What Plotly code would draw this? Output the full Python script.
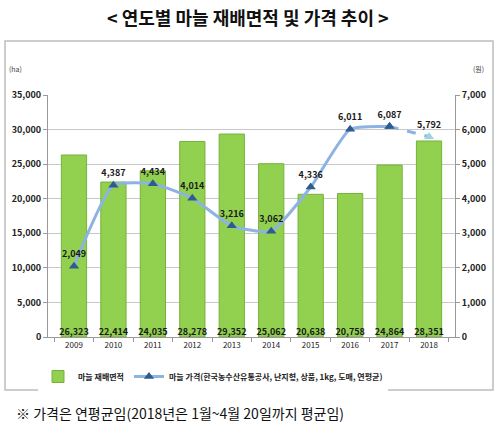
import plotly.graph_objects as go

years = ["2009", "2010", "2011", "2012", "2013", "2014", "2015", "2016", "2017", "2018"]
area_ha = [26323, 22414, 24035, 28278, 29352, 25062, 20638, 20758, 24864, 28351]
price_won = [2049, 4387, 4434, 4014, 3216, 3062, 4336, 6011, 6087, 5792]

area_name = "마늘 재배면적"
price_name = "마늘 가격(한국농수산유통공사, 난지형, 상품, 1kg, 도매, 연평균)"
title_text = "< 연도별 마늘 재배면적 및 가격 추이 >"
note_text = "※ 가격은 연평균임(2018년은 1월~4월 20일까지 평균임)"

FONT = "Noto Sans CJK KR"

fig = go.Figure()

fig.add_trace(go.Bar(
    x=years, y=area_ha, name=area_name,
    marker=dict(color="#92d050", line=dict(color="#77b13a", width=1)),
    width=0.64, yaxis="y",
))

# bar value labels at the base of each bar
fig.add_trace(go.Scatter(
    x=years, y=[0] * len(years), mode="text", showlegend=False,
    text=[f"{v:,}" for v in area_ha], textposition="top center",
    textfont=dict(family=FONT, size=9, color="#1a1a1a", weight="bold"),
    cliponaxis=False, yaxis="y", hoverinfo="skip",
))

fig.add_trace(go.Scatter(
    x=years[:-1], y=price_won[:-1], name=price_name,
    mode="lines+markers+text", line=dict(color="#8db3e2", width=3, shape="spline", smoothing=0.5),
    marker=dict(symbol="triangle-up", size=9, color="#2e5c8e"),
    text=[f"{v:,}" for v in price_won[:-1]], textposition="top center",
    textfont=dict(family=FONT, size=9, color="#1a1a1a", weight="bold"),
    yaxis="y2", cliponaxis=False,
))

fig.add_trace(go.Scatter(
    x=years[-2:], y=price_won[-2:], showlegend=False,
    mode="lines+markers+text", line=dict(color="#8db3e2", width=3, dash="dash"),
    marker=dict(symbol="triangle-up", size=9, color=["#2e5c8e", "#9fd3e0"]),
    text=["", f"{price_won[-1]:,}"], textposition="top center",
    textfont=dict(family=FONT, size=9, color="#1a1a1a", weight="bold"),
    yaxis="y2", cliponaxis=False,
))

def px_x(p):
    return (p - 48) / 407

def px_y(p):
    return (337 - p) / 242

fig.update_layout(
    width=500, height=434,
    margin=dict(l=48, r=45, t=95, b=97, autoexpand=False),
    paper_bgcolor="white", plot_bgcolor="white",
    font=dict(family=FONT, size=9, color="#222"),
    bargap=0.36,
    xaxis=dict(showline=True, linecolor="#999", ticks="outside", tickcolor="#999",
               ticklen=4, tickson="boundaries", tickfont=dict(size=8, color="#222"),
               automargin=False),
    yaxis=dict(range=[0, 35000], dtick=5000, tickformat=",", showline=True, linecolor="#999",
               ticks="outside", tickcolor="#999", ticklen=4, gridcolor="#c8c8c8",
               tickfont=dict(size=9, weight="bold", color="#222"), zeroline=False,
               automargin=False),
    yaxis2=dict(range=[0, 7000], dtick=1000, tickformat=",", overlaying="y", side="right",
                showline=True, linecolor="#999", ticks="outside", tickcolor="#999", ticklen=4,
                showgrid=False, tickfont=dict(size=9, weight="bold", color="#222"), zeroline=False,
                automargin=False),
    legend=dict(orientation="h", x=px_x(38), xanchor="left", y=px_y(362), yanchor="top",
                font=dict(size=8, weight="bold", color="#222"), itemwidth=30,
                traceorder="normal", entrywidth=0),
    showlegend=True,
)

fig.add_shape(type="rect", xref="paper", yref="paper",
              x0=px_x(5), x1=px_x(493), y0=px_y(390), y1=px_y(41),
              line=dict(color="#bdbdbd", width=1.5), layer="below")

fig.add_annotation(text=title_text, xref="paper", yref="paper", x=px_x(248), y=px_y(17),
                   showarrow=False, font=dict(size=18, color="#111", weight="bold"),
                   xanchor="center", yanchor="middle")
fig.add_annotation(text="(ha)", xref="paper", yref="paper", x=px_x(15), y=px_y(69),
                   showarrow=False, font=dict(size=7, color="#444"), xanchor="center", yanchor="middle")
fig.add_annotation(text="(원)", xref="paper", yref="paper", x=px_x(478), y=px_y(69),
                   showarrow=False, font=dict(size=7, color="#444"), xanchor="center", yanchor="middle")
fig.add_annotation(text=note_text, xref="paper", yref="paper", x=px_x(14), y=px_y(413),
                   showarrow=False, font=dict(size=14, color="#111"), xanchor="left", yanchor="middle")

fig.write_html("out.html", config={"displayModeBar": False},
               post_script="document.body.style.margin='0';document.body.style.overflow='hidden';")
